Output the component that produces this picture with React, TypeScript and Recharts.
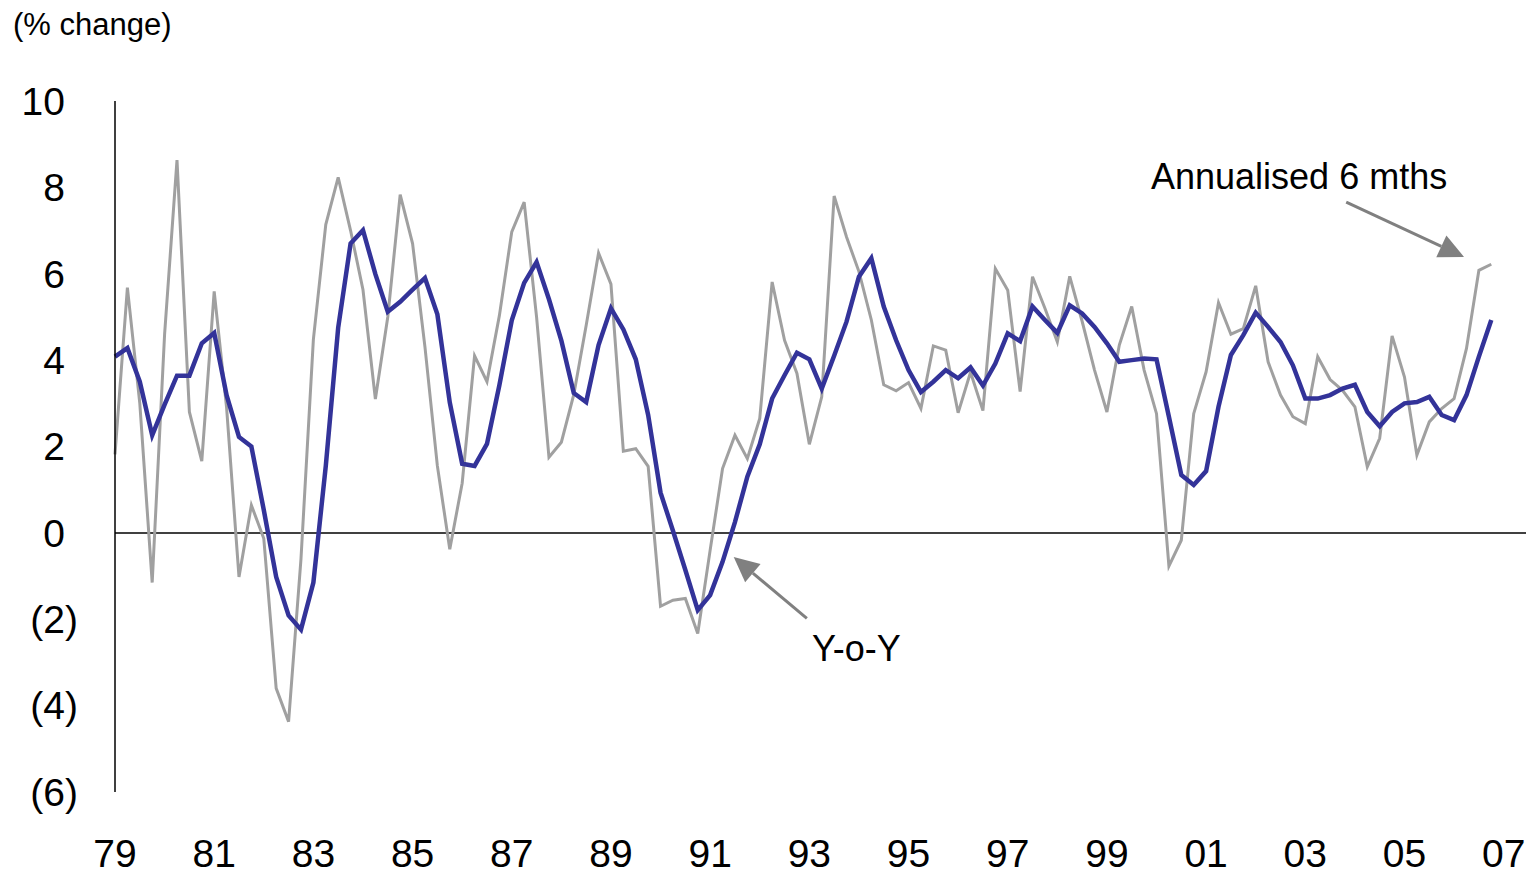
import { LineChart, Line, XAxis, YAxis, ReferenceLine, ReferenceDot } from "recharts";

// Quarterly, 1979 Q1 .. 2006 Q4. Grey = annualised 6-month change, blue = year-on-year.
const annualised6m = [
  1.82, 5.68, 3.0, -1.15, 4.6, 8.63, 2.8, 1.66, 5.59, 2.9, -1.02, 0.64, -0.13, -3.6, -4.37, -0.6,
  4.48, 7.14, 8.23, 7.0, 5.63, 3.1, 5.0, 7.83, 6.7, 4.3, 1.55, -0.38, 1.15, 4.1, 3.5, 5.03,
  6.97, 7.66, 5.0, 1.75, 2.1, 3.2, 4.8, 6.48, 5.76, 1.89, 1.95, 1.54, -1.7, -1.56, -1.52, -2.33,
  -0.4, 1.49, 2.26, 1.72, 2.65, 5.81, 4.46, 3.69, 2.05, 3.15, 7.8, 6.85, 6.05, 4.93, 3.43, 3.29,
  3.48, 2.88, 4.33, 4.23, 2.78, 3.72, 2.83, 6.12, 5.62, 3.27, 5.93, 5.2, 4.42, 5.94, 4.9, 3.77,
  2.8, 4.35, 5.24, 3.77, 2.76, -0.77, -0.17, 2.76, 3.73, 5.33, 4.6, 4.73, 5.72, 3.96, 3.19, 2.69,
  2.53, 4.08, 3.55, 3.3, 2.92, 1.53, 2.19, 4.56, 3.61, 1.8, 2.57, 2.88, 3.11, 4.27, 6.08, 6.22,
];

const yoy = [
  4.08, 4.28, 3.5, 2.26, 2.97, 3.64, 3.64, 4.39, 4.63, 3.19, 2.22, 2.0, 0.53, -1.02, -1.91, -2.24,
  -1.15, 1.55, 4.75, 6.7, 7.01, 5.99, 5.12, 5.35, 5.63, 5.9, 5.06, 3.02, 1.6, 1.55, 2.06, 3.42,
  4.92, 5.79, 6.27, 5.41, 4.45, 3.24, 3.03, 4.35, 5.2, 4.71, 4.02, 2.73, 0.93, 0.05, -0.86, -1.79,
  -1.44, -0.67, 0.25, 1.3, 2.05, 3.11, 3.65, 4.17, 4.02, 3.34, 4.1, 4.89, 5.93, 6.36, 5.24, 4.46,
  3.77, 3.26, 3.5, 3.77, 3.58, 3.83, 3.41, 3.92, 4.62, 4.44, 5.24, 4.93, 4.63, 5.27, 5.08, 4.77,
  4.39, 3.96, 4.0, 4.04, 4.02, 2.69, 1.34, 1.11, 1.43, 2.92, 4.12, 4.58, 5.1, 4.77, 4.42, 3.88,
  3.11, 3.11, 3.19, 3.34, 3.43, 2.8, 2.47, 2.8, 3.0, 3.03, 3.15, 2.73, 2.61, 3.19, 4.08, 4.93,
];

const yearLabels = ["79", "81", "83", "85", "87", "89", "91", "93", "95", "97", "99", "01", "03", "05", "07"];
const yTicks = [-6, -4, -2, 0, 2, 4, 6, 8, 10];

// annotation positions in data units (quarter index, % change)
const annotations = [
  { text: "Annualised 6 mths", textAt: [95.5, 8.26], from: [99.3, 7.66], to: [108.8, 6.39] },
  { text: "Y-o-Y", textAt: [59.8, -2.66], from: [55.8, -1.98], to: [49.9, -0.56] },
];

const data = yoy.map((v, i) => ({ q: i, yoy: v, ann: annualised6m[i] }));

const FONT = "'Liberation Sans', Arial, sans-serif";
const ARROW = "#808080";

const YTick = (props: any) => {
  const { x, y, payload } = props;
  const v = payload.value as number;
  const neg = v < 0;
  return (
    <text x={x} y={y} dy="0.355em" dx={neg ? 0 : -13} textAnchor="end" fontSize={39} fill="#000" fontFamily={FONT}>
      {neg ? `(${-v})` : String(v)}
    </text>
  );
};

const XTick = (props: any) => {
  const { x, y, payload } = props;
  return (
    <text x={x} y={y} dy="0.355em" textAnchor="middle" fontSize={39} fill="#000" fontFamily={FONT}>
      {yearLabels[Math.round(payload.value / 8)]}
    </text>
  );
};

// line with a filled triangular head at (x2, y2)
const arrowShape = (props: any) => {
  const { x1, y1, x2, y2 } = props;
  const dx = x2 - x1;
  const dy = y2 - y1;
  const len = Math.sqrt(dx * dx + dy * dy) || 1;
  const ux = dx / len;
  const uy = dy / len;
  const headLen = 25;
  const half = 12;
  const bx = x2 - ux * headLen;
  const by = y2 - uy * headLen;
  const pts = `${x2},${y2} ${bx - uy * half},${by + ux * half} ${bx + uy * half},${by - ux * half}`;
  return (
    <g>
      <line x1={x1} y1={y1} x2={bx} y2={by} stroke={ARROW} strokeWidth={3} />
      <polygon points={pts} fill={ARROW} />
    </g>
  );
};

const labelShape = (text: string) => (props: any) => (
  <text x={props.cx} y={props.cy} dy="0.355em" textAnchor="middle" fontSize={36} fill="#000" fontFamily={FONT}>
    {text}
  </text>
);

export default function App() {
  return (
    <div style={{ position: "absolute", left: 0, top: 0, width: 1526, height: 874, background: "#fff" }}>
      <div style={{ position: "absolute", left: 13, top: 9, fontSize: 31, lineHeight: "31px", fontFamily: FONT, color: "#000" }}>
        (% change)
      </div>
      <LineChart width={1526} height={874} data={data} margin={{ top: 101, right: 0, bottom: 0, left: 0 }}>
        <XAxis
          dataKey="q"
          type="number"
          domain={[0, 113.8]}
          ticks={yearLabels.map((_, k) => k * 8)}
          interval={0}
          axisLine={false}
          tickLine={false}
          tickSize={0}
          tickMargin={61}
          height={82}
          tick={<XTick />}
        />
        <YAxis
          type="number"
          domain={[-6, 10]}
          ticks={yTicks}
          interval={0}
          width={115}
          axisLine={{ stroke: "#000", strokeWidth: 1.5 }}
          tickLine={false}
          tickSize={0}
          tickMargin={37}
          tick={<YTick />}
        />
        <ReferenceLine y={0} stroke="#000" strokeWidth={1.5} />
        <Line type="linear" dataKey="ann" stroke="#a0a0a0" strokeWidth={3} dot={false} isAnimationActive={false} />
        <Line type="linear" dataKey="yoy" stroke="#333399" strokeWidth={4.5} dot={false} isAnimationActive={false} />
        {annotations.map((a) => (
          <ReferenceLine
            key={a.text + "-arrow"}
            segment={[
              { x: a.from[0], y: a.from[1] },
              { x: a.to[0], y: a.to[1] },
            ]}
            ifOverflow="visible"
            shape={arrowShape}
          />
        ))}
        {annotations.map((a) => (
          <ReferenceDot
            key={a.text + "-label"}
            x={a.textAt[0]}
            y={a.textAt[1]}
            r={0}
            ifOverflow="visible"
            shape={labelShape(a.text)}
          />
        ))}
      </LineChart>
    </div>
  );
}
